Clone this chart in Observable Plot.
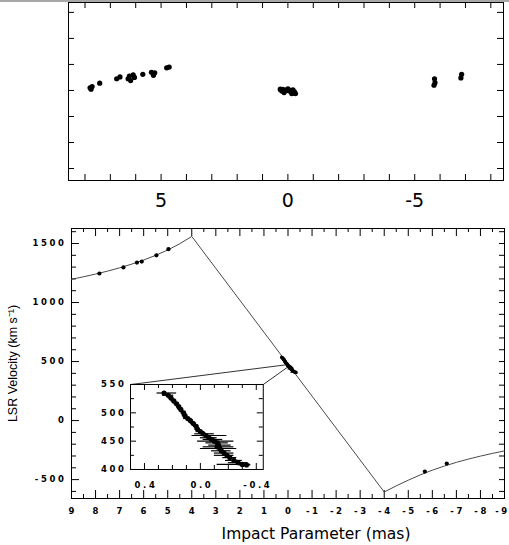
<!DOCTYPE html>
<html>
<head>
<meta charset="utf-8">
<script src="https://cdn.jsdelivr.net/npm/d3@7"></script>
<script src="https://cdn.jsdelivr.net/npm/@observablehq/plot@0.6"></script>
<style>
  html, body { margin: 0; padding: 0; background: #fff; }
  #fig { position: relative; width: 509px; height: 545px; overflow: hidden; background: #fff; }
  #fig > svg { position: absolute; }
  #topline { position: absolute; left: 0; top: 0; width: 509px; height: 2px; background: #a8a8a8; }
</style>
</head>
<body>
<div id="fig"><div id="topline"></div></div>
<script>
// ================= DATA =================
// Top panel: maser spot positions on the sky (mas)
const skyX = [7.80, 7.72, 7.76, 7.42, 6.75, 6.62, 6.30, 6.25, 6.10, 6.20, 6.05, 5.72, 5.38, 5.25, 5.30, 4.78, 4.68,
              0.28, 0.20, 0.12, 0.05, -0.05, -0.12, -0.20, -0.26, -0.22, 0.22, 0.15, -0.15, 0.30, -0.30, 0.00,
              -5.78, -5.80, -5.76, -6.85, -6.82];
const skyY = [0.10, 0.15, 0.05, 0.28, 0.45, 0.52, 0.45, 0.55, 0.60, 0.38, 0.50, 0.62, 0.70, 0.68, 0.58, 0.87, 0.90,
              0.02, 0.04, 0.00, 0.02, -0.02, 0.00, 0.02, -0.05, -0.10, -0.03, -0.08, -0.12, 0.05, -0.12, 0.06,
              0.45, 0.30, 0.20, 0.62, 0.48];
const skyTicksX = [-8, -7, -6, -5, -4, -3, -2, -1, 0, 1, 2, 3, 4, 5, 6, 7, 8];
const skyTicksY = [-3, -2, -1, 0, 1, 2, 3];
const skyLabels = [5, 0, -5];

// Bottom panel: LSR velocity vs impact parameter
const hvX = [7.84, 6.84, 6.28, 6.08, 5.47, 4.97, -5.69, -6.60];
const hvV = [1246, 1297, 1338, 1347, 1400, 1452, -432, -364];
const modelX = [9, 8.5, 8, 7.5, 7, 6.5, 6, 5.5, 5, 4.5, 4, -4, -4.5, -5, -5.5, -6, -6.5, -7, -7.5, -8, -8.5, -9];
const modelV = [1197, 1218, 1241, 1266, 1294, 1325, 1360, 1400, 1445, 1498, 1560, -605, -553, -505, -460, -420, -385, -354, -326, -301, -278, -257];

// Systemic spots (impact parameter, velocity, error-bar ends)
const sysX  = [0.26, 0.23, 0.21, 0.19, 0.17, 0.155, 0.14, 0.12, 0.11, 0.09, 0.07, 0.05, 0.03, 0.02, 0.00, -0.02, -0.04, -0.06, -0.08, -0.10, -0.12, -0.13, -0.12, -0.14, -0.15, -0.17, -0.19, -0.21, -0.24, -0.27, -0.30, -0.33];
const sysV  = [535, 531, 526, 521, 516, 511, 506, 500, 495, 490, 486, 481, 476, 471, 467, 463, 460, 456, 453, 450, 447, 443, 440, 437, 433, 429, 425, 421, 416, 412, 409, 408];
const sysLo = [0.31, 0.27, 0.23, 0.21, 0.19, 0.17, 0.16, 0.14, 0.13, 0.12, 0.09, 0.07, 0.05, 0.04, 0.03, 0.04, 0.06, 0.00, -0.02, 0.02, -0.04, -0.06, -0.02, 0.00, -0.08, -0.10, -0.10, -0.16, -0.18, -0.20, -0.12, -0.28];
const sysHi = [0.17, 0.19, 0.19, 0.17, 0.15, 0.14, 0.12, 0.10, 0.09, 0.06, 0.05, 0.03, 0.01, 0.00, -0.03, -0.10, -0.19, -0.12, -0.16, -0.24, -0.20, -0.22, -0.24, -0.26, -0.22, -0.24, -0.24, -0.26, -0.30, -0.34, -0.36, -0.36];

const pvXMajor = [-8, -7, -6, -5, -4, -3, -2, -1, 0, 1, 2, 3, 4, 5, 6, 7, 8];
const pvXMinor = [-8.5, -7.5, -6.5, -5.5, -4.5, -3.5, -2.5, -1.5, -0.5, 0.5, 1.5, 2.5, 3.5, 4.5, 5.5, 6.5, 7.5, 8.5];
const pvXLabels = [9, 8, 7, 6, 5, 4, 3, 2, 1, 0, -1, -2, -3, -4, -5, -6, -7, -8, -9];
const pvYMajor = [-500, 0, 500, 1000, 1500];
const pvYMinor = [-600, -400, -300, -200, -100, 100, 200, 300, 400, 600, 700, 800, 900, 1100, 1200, 1300, 1400, 1600];

// Inset (zoom on systemic spots)
const inXMajor = [0.4, 0.0, -0.4];
const inXMinor = [0.5, 0.3, 0.2, 0.1, -0.1, -0.2, -0.3];
const inYMajor = [400, 450, 500, 550];
const inYMinor = [425, 475, 525];
// inset placement, in bottom-panel data coordinates
const insetBox = {x1: 6.55, x2: 1.03, v1: 305, v2: -415};
const connectFrom = [[6.55, 305], [1.03, 305]];
const connectTo = [[0.02, 474], [0.02, 452]];

// ================= HELPERS =================
const TF = "'DejaVu Sans', sans-serif";
const LF = "'Liberation Sans', Arial, sans-serif";
const fmt = d => (d < 0 ? "-" + String(-d) : String(d));
const fmt1 = d => (d < 0 ? "-" + (-d).toFixed(1) : d.toFixed(1));

function inTicksX(vals, fh, L, stroke = "#000") {
  return [
    Plot.tickX(vals, {x: d => d, insetTop: fh - L, stroke}),
    Plot.tickX(vals, {x: d => d, insetBottom: fh - L, stroke})
  ];
}
function inTicksY(vals, fw, L, Lr = L, stroke = "#000") {
  return [
    Plot.tickY(vals, {y: d => d, insetRight: fw - L, stroke}),
    Plot.tickY(vals, {y: d => d, insetLeft: fw - Lr, stroke})
  ];
}

const fig = document.getElementById("fig");

// ================= TOP PANEL =================
{
  const W = 509, H = 212, ml = 68, mr = 6, mt = 2, mb = 32;
  const fw = W - ml - mr, fh = H - mt - mb;
  const sky = skyX.map((x, i) => ({x, y: skyY[i]}));
  const p = Plot.plot({
    width: W, height: H, marginLeft: ml, marginRight: mr, marginTop: mt, marginBottom: mb,
    x: {domain: [8.65, -8.5], axis: null},
    y: {domain: [-3.46, 3.38], axis: null},
    style: {background: "transparent", overflow: "visible"},
    marks: [
      Plot.frame({stroke: "#000"}),
      ...inTicksX(skyTicksX, fh, 6),
      ...inTicksY(skyTicksY, fw, 6),
      Plot.dot(sky, {x: "x", y: "y", r: 2.6, fill: "#000", stroke: "none"}),
      Plot.text(skyLabels, {x: d => d, text: fmt, frameAnchor: "bottom", dy: 20, lineAnchor: "middle",
        fontSize: 19, fontFamily: TF, fill: "#000"})
    ]
  });
  p.style.left = "0px"; p.style.top = "0px";
  fig.appendChild(p);
}

// ================= BOTTOM PANEL =================
const mainTop = 212;
let main;
{
  const W = 509, H = 333, ml = 71, mr = 5, mt = 16, mb = 47;
  const fw = W - ml - mr, fh = H - mt - mb;
  const model = modelX.map((x, i) => ({x, v: modelV[i]}));
  const hv = hvX.map((x, i) => ({x, v: hvV[i]}));
  const sys = sysX.map((x, i) => ({x, v: sysV[i], lo: sysLo[i], hi: sysHi[i]}));
  const links = connectFrom.map((a, i) => ({x1: a[0], y1: a[1], x2: connectTo[i][0], y2: connectTo[i][1]}));
  const lblStyle = {frameAnchor: "bottom", dy: 13, lineAnchor: "middle",
    fontSize: 8.5, fontWeight: "bold", fontFamily: TF, fill: "#000"};
  main = Plot.plot({
    width: W, height: H, marginLeft: ml, marginRight: mr, marginTop: mt, marginBottom: mb,
    x: {domain: [9, -9], axis: null},
    y: {domain: [-660, 1627], axis: null},
    style: {background: "transparent", overflow: "visible"},
    marks: [
      Plot.frame({stroke: "#000"}),
      ...inTicksX(pvXMajor, fh, 8),
      ...inTicksX(pvXMinor, fh, 4),
      ...inTicksY(pvYMajor, fw, 8, 5),
      ...inTicksY(pvYMinor, fw, 5, 5),
      Plot.line(model, {x: "x", y: "v", stroke: "#4a4a4a", strokeWidth: 1}),
      Plot.link(links, {x1: "x1", y1: "y1", x2: "x2", y2: "y2", stroke: "#333", strokeWidth: 1}),
      Plot.ruleY(sys, {y: "v", x1: "lo", x2: "hi", stroke: "#000", strokeWidth: 1}),
      Plot.dot(sys, {x: "x", y: "v", r: 1.8, fill: "#000", stroke: "none"}),
      Plot.dot(hv, {x: "x", y: "v", r: 2.1, fill: "#000", stroke: "none"}),
      Plot.text(pvXLabels.filter(d => d > -9), {x: d => d, text: fmt, dx: 1.2, ...lblStyle}),
      Plot.text(pvXLabels.filter(d => d === -9), {x: d => d, text: fmt, dx: -2, ...lblStyle}),
      Plot.text(pvYMajor, {y: d => d, text: fmt, frameAnchor: "left", dx: -5, textAnchor: "end", lineAnchor: "middle",
        fontSize: 8.5, fontWeight: "bold", fontFamily: TF, fill: "#000"}),
      Plot.text(["LSR Velocity (km s\u207B\u00B9)"], {text: d => d, frameAnchor: "left", dx: -59, rotate: -90,
        textAnchor: "middle", lineAnchor: "middle", fontSize: 12.5, fontFamily: LF, fill: "#000"}),
      Plot.text(["Impact Parameter (mas)"], {text: d => d, frameAnchor: "bottom", dx: 28, dy: 40, lineAnchor: "bottom",
        fontSize: 15.5, fontFamily: TF, fill: "#000"})
    ]
  });
  d3.select(main).selectAll("g[font-size='8.5']").attr("letter-spacing", 2.6);
  main.style.left = "0px"; main.style.top = mainTop + "px";
  fig.appendChild(main);
}

// ================= INSET =================
{
  const sx = main.scale("x"), sy = main.scale("y");
  const left = sx.apply(insetBox.x1), right = sx.apply(insetBox.x2);
  const top = sy.apply(insetBox.v1), bottom = sy.apply(insetBox.v2);
  const ml = 42, mr = 4, mt = 3, mb = 24;
  const fw = right - left, fh = bottom - top;
  const sys = sysX.map((x, i) => ({x, v: sysV[i], lo: sysLo[i], hi: sysHi[i]}));
  const ins = Plot.plot({
    width: fw + ml + mr, height: fh + mt + mb, marginLeft: ml, marginRight: mr, marginTop: mt, marginBottom: mb,
    x: {domain: [0.5, -0.45], axis: null},
    y: {domain: [400, 550], axis: null},
    style: {background: "transparent", overflow: "visible"},
    marks: [
      Plot.frame({fill: "#fff", stroke: "none"}),
      Plot.ruleY(sys, {y: "v", x1: "lo", x2: "hi", stroke: "#000", strokeWidth: 1.2}),
      Plot.dot(sys, {x: "x", y: "v", r: 2.6, fill: "#000", stroke: "none"}),
      Plot.frame({stroke: "#000"}),
      ...inTicksX(inXMajor, fh, 6),
      ...inTicksX(inXMinor, fh, 4),
      ...inTicksY(inYMajor, fw, 6),
      ...inTicksY(inYMinor, fw, 4),
      Plot.text(inXMajor, {x: d => d, text: fmt1, frameAnchor: "bottom", dy: 16, dx: 1.5, lineAnchor: "middle",
        fontSize: 8.5, fontWeight: "bold", fontFamily: TF, fill: "#000"}),
      Plot.text(inYMajor, {y: d => d, text: fmt, frameAnchor: "left", dx: -4, textAnchor: "end", lineAnchor: "middle",
        fontSize: 8.5, fontWeight: "bold", fontFamily: TF, fill: "#000"})
    ]
  });
  d3.select(ins).selectAll("g[font-size='8.5']").attr("letter-spacing", 2.6);
  ins.style.left = (left - ml) + "px";
  ins.style.top = (mainTop + top - mt) + "px";
  fig.appendChild(ins);
}
</script>
</body>
</html>
